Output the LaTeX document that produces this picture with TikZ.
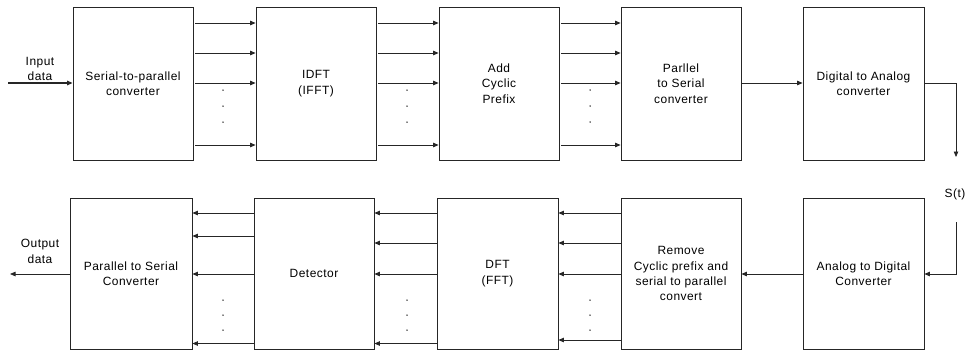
\documentclass[tikz,border=0pt]{standalone}
\usepackage{fontspec}
\setmainfont{Liberation Sans}[LetterSpace=4]
\usetikzlibrary{arrows.meta}
\begin{document}
\begin{tikzpicture}[x=1bp,y=-1bp,
  blk/.style={draw=black!85,line width=0.8bp,minimum width=120bp,inner sep=0pt,
    font=\fontsize{12}{15.5}\selectfont,align=center},
  toprow/.style={blk,minimum height=153bp},
  botrow/.style={blk,minimum height=151.5bp},
  arr/.style={draw=black!85,line width=0.8bp,-{Triangle[length=5.5bp,width=4.5bp]}},
  lbl/.style={font=\fontsize{12}{15.5}\selectfont,align=center,inner sep=0pt},
  dotm/.style={fill=black,circle,inner sep=0pt,minimum size=1.5bp}]
\useasboundingbox (0,0) rectangle (967,351);
% top row
\node[toprow] (t1) at (133,83.5) {Serial-to-parallel\\converter};
\node[toprow] (t2) at (316,83.5) {IDFT\\(IFFT)};
\node[toprow] (t3) at (499,83.5) {Add\\Cyclic\\Prefix};
\node[toprow] (t4) at (681,83.5) {Parllel\\to Serial\\converter};
\node[toprow,minimum width=121bp] (t5) at (863.5,83.5) {Digital to Analog\\converter};
% bottom row
\node[botrow,minimum width=122bp] (b1) at (131,273.75) {Parallel to Serial\\Converter};
\node[botrow] (b2) at (314,273.75) {Detector};
\node[botrow,minimum width=121bp] (b3) at (497.5,273.75) {DFT\\(FFT)};
\node[botrow] (b4) at (681,273.75) {Remove\\Cyclic prefix and\\serial to parallel\\convert};
\node[botrow,minimum width=121bp] (b5) at (863.5,273.75) {Analog to Digital\\Converter};
% row coordinates
\coordinate (ya) at (0,23);
\coordinate (yb) at (0,53);
\coordinate (yc) at (0,83);
\coordinate (yd) at (0,145);
\coordinate (za) at (0,213);
\coordinate (zb) at (0,236);
\coordinate (zb2) at (0,243);
\coordinate (zc) at (0,274);
\coordinate (zd) at (0,343.5);
\coordinate (zd2) at (0,340);
% input / output
\coordinate (in) at (8,83);
\draw[arr,line width=1.3bp] (in) -- (t1.west |- yc);
\node[lbl] (inl) at (40,69) {Input\\data};
\coordinate (out) at (10,274);
\draw[arr] (b1.west |- zc) -- (out);
\node[lbl] (outl) at (40,251.5) {Output\\data};
% top parallel arrows
\foreach \a/\b in {t1/t2,t2/t3,t3/t4}{
  \foreach \y in {ya,yb,yc,yd}{
    \draw[arr,shorten <=2bp] (\a.east |- \y) -- (\b.west |- \y);
  }
}
\draw[arr] (t4.east |- yc) -- (t5.west |- yc);
% DAC output down to channel
\coordinate (dr) at (956,83);
\coordinate (dd) at (956,157);
\draw[arr] (t5.east |- yc) -- (dr) -- (dd);
% S(t)
\node[lbl] (st) at (955,194) {S(t)};
\coordinate (sa) at (956,222);
\coordinate (sb) at (956,274);
\draw[arr] (sa) -- (sb) -- (b5.east |- zc);
\draw[arr] (b5.west |- zc) -- (b4.east |- zc);
% bottom parallel arrows
\foreach \y in {za,zb,zc,zd}{
  \draw[arr] (b2.west |- \y) -- (b1.east |- \y);
}
\foreach \y in {za,zb2,zc,zd}{
  \draw[arr] (b3.west |- \y) -- (b2.east |- \y);
}
\foreach \y in {za,zb2,zc,zd2}{
  \draw[arr] (b4.west |- \y) -- (b3.east |- \y);
}
% dots
\foreach \x in {223,407,590}{
  \foreach \y in {90,106,122,300,315,330}{
    \node[dotm] at (\x,\y) {};
  }
}
\end{tikzpicture}
\end{document}
